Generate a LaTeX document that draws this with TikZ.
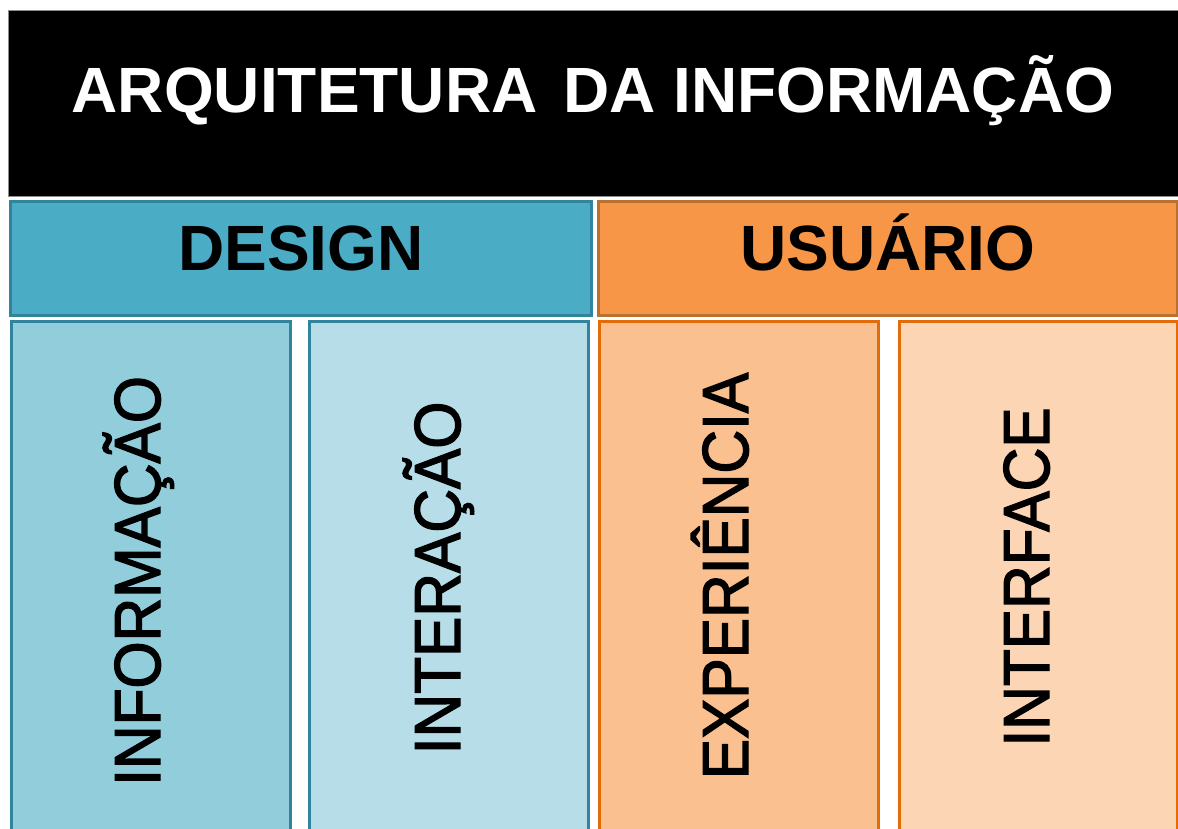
\documentclass[tikz,border=0pt]{standalone}
\usepackage{fontspec}
\setmainfont{Liberation Sans}
\newfontfamily\colfont[FakeBold=2.2]{Liberation Sans}
\usetikzlibrary{positioning}
\definecolor{hdrline}{HTML}{8C8C8C}
\definecolor{tealdark}{HTML}{31849B}
\definecolor{tealmid}{HTML}{4BACC6}
\definecolor{teallight}{HTML}{92CDDC}
\definecolor{tealpale}{HTML}{B7DEE8}
\definecolor{orgdark}{HTML}{B8722F}
\definecolor{orgmid}{HTML}{F79646}
\definecolor{orgline}{HTML}{E36C09}
\definecolor{orglight}{HTML}{FAC090}
\definecolor{orgpale}{HTML}{FCD5B5}
\tikzset{
  boxa/.style={line width=3pt},
  bigtxt/.style={font=\fontsize{64}{70}\selectfont\bfseries, anchor=base, inner sep=0pt},
  coltxt/.style={font=\colfont\fontsize{65}{70}\selectfont, anchor=base, rotate=90, inner sep=0pt}
}
\begin{document}
\begin{tikzpicture}[x=1pt,y=-1pt]
\useasboundingbox (0,0) rectangle (1178,829);
\clip (0,0) rectangle (1178,829);
% header
\draw[fill=black, draw=hdrline, line width=1pt] (8,11) rectangle (1190,197);
\node[bigtxt, text=white] (title) at (593,113) {ARQUITETURA\hspace{8pt} DA INFORMAÇÃO};
% second row
\draw[boxa, fill=tealmid, draw=tealdark] (10.5,201.5) rectangle (591.5,315.5);
\draw[boxa, fill=orgmid, draw=orgdark] (598.5,201.5) rectangle (1177,315.5);
\node[bigtxt] (design) at (301,270) {DESIGN};
\node[bigtxt] (usuario) at (888,270) {USUÁRIO};
% columns
\draw[boxa, fill=teallight, draw=tealdark] (11,321.5) rectangle (290,840);
\draw[boxa, fill=tealpale, draw=tealdark] (309,321.5) rectangle (588,840);
\draw[boxa, fill=orglight, draw=orgline] (599,321.5) rectangle (878,840);
\draw[boxa, fill=orgpale, draw=orgline] (899,321.5) rectangle (1177,840);
\node[coltxt] (info) at (160,581) {\scalebox{0.93}[1]{INFORMAÇÃO}};
\node[coltxt] (inter) at (460,578) {\scalebox{0.93}[1]{INTERAÇÃO}};
\node[coltxt] (exper) at (748,576) {\scalebox{0.93}[1]{EXPERIÊNCIA}};
\node[coltxt] (iface) at (1049,577) {\scalebox{0.93}[1]{INTERFACE}};
\end{tikzpicture}
\end{document}
